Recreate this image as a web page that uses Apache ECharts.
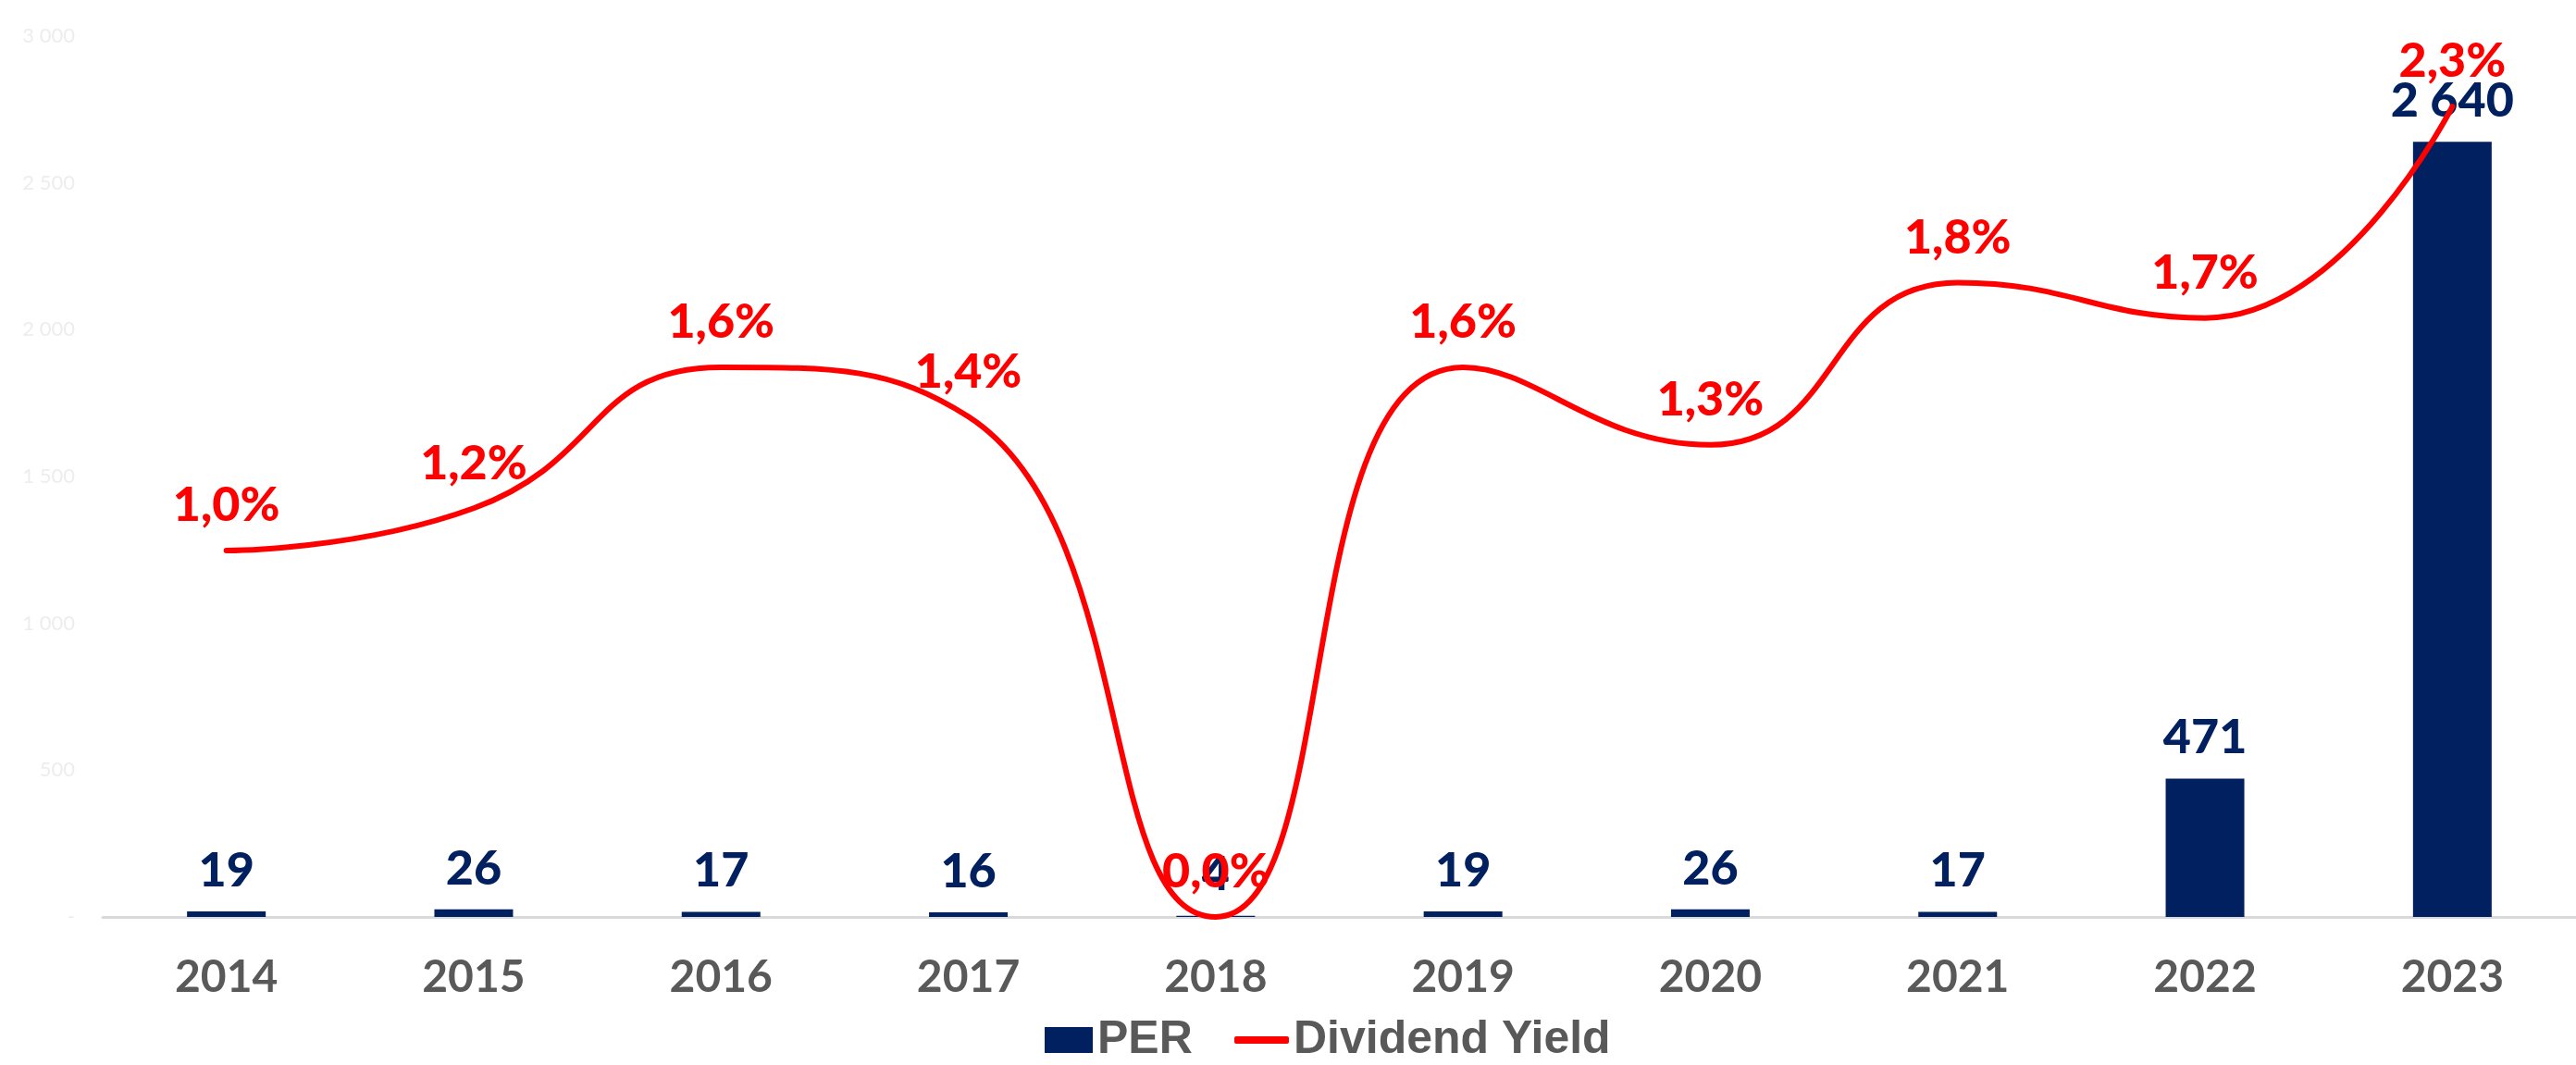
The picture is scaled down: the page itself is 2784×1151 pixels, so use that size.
<!DOCTYPE html>
<html>
<head>
<meta charset="utf-8">
<script src="https://cdn.jsdelivr.net/npm/echarts@6/dist/echarts.min.js"></script>
<style>
html,body{margin:0;padding:0;background:#fff;}
#chart{width:2784px;height:1151px;}
</style>
</head>
<body>
<div id="chart"></div>
<script>
const categories = ['2014','2015','2016','2017','2018','2019','2020','2021','2022','2023'];
const perValues = [19, 26, 17, 16, 4, 19, 26, 17, 471, 2640];
const dividendYield = [1.04, 1.16, 1.56, 1.42, 0.0, 1.56, 1.34, 1.80, 1.70, 2.30];
const perAxisTicks = [0, 500, 1000, 1500, 2000, 2500, 3000];

const chart = echarts.init(document.getElementById('chart'));
const labelFont = "Lato, 'Liberation Sans', sans-serif";
const legendFont = "'Liberation Sans', Arial, sans-serif";

chart.setOption({
  animation: false,
  backgroundColor: '#ffffff',
  grid: { left: 111, right: -33, top: 39, bottom: 160, containLabel: false },
  legend: [
    {
      data: [{ name: 'PER', icon: 'rect' }],
      left: 1124, top: 1094,
      itemWidth: 52, itemHeight: 28,
      textStyle: { color: '#595959', fontSize: 50, fontWeight: 'bold', fontFamily: legendFont }
    },
    {
      data: [{ name: 'Dividend Yield', icon: 'roundRect' }],
      left: 1329, top: 1094,
      itemWidth: 59, itemHeight: 8,
      textStyle: { color: '#595959', fontSize: 50, fontWeight: 'bold', fontFamily: legendFont }
    }
  ],
  xAxis: {
    type: 'category',
    data: categories,
    boundaryGap: true,
    axisLine: { show: true, lineStyle: { color: '#d9d9d9', width: 3 } },
    axisTick: { show: false },
    axisLabel: {
      margin: 42,
      color: '#595959', fontSize: 48, fontWeight: 'bold',
      fontFamily: "Lato, sans-serif"
    },
    splitLine: { show: false }
  },
  yAxis: [
    {
      type: 'value',
      min: perAxisTicks[0],
      max: perAxisTicks[perAxisTicks.length - 1],
      interval: perAxisTicks[1] - perAxisTicks[0],
      axisLine: { show: false },
      axisTick: { show: false },
      splitLine: { show: false },
      axisLabel: {
        margin: 30,
        color: '#ededed', fontSize: 22, fontFamily: "Lato, sans-serif",
        formatter: function (v) {
          if (v === 0) return '-';
          return String(v).replace(/\B(?=(\d{3})+(?!\d))/g, ' ');
        }
      }
    },
    {
      type: 'value', min: 0, max: 2.5, show: false,
      splitLine: { show: false }
    }
  ],
  series: [
    {
      name: 'PER',
      type: 'bar',
      data: perValues,
      barWidth: 85,
      itemStyle: { color: '#002060' },
      label: {
        show: true, position: 'top', distance: 18,
        color: '#002060', fontSize: 52, fontWeight: 900, fontFamily: labelFont,
        formatter: function (p) {
          return String(p.value).replace(/\B(?=(\d{3})+(?!\d))/g, ' ');
        }
      },
      z: 2
    },
    {
      name: 'Dividend Yield',
      type: 'line',
      yAxisIndex: 1,
      data: dividendYield,
      smooth: 0.5,
      symbol: 'circle',
      symbolSize: 1,
      showSymbol: true,
      lineStyle: { color: '#ff0000', width: 6, cap: 'round' },
      itemStyle: { color: '#ff0000' },
      label: {
        show: true, position: 'top', distance: 22,
        color: '#ff0000', fontSize: 52, fontWeight: 900, fontFamily: labelFont,
        formatter: function (p) {
          return p.value.toFixed(1).replace('.', ',') + '%';
        }
      },
      labelLayout: { hideOverlap: false },
      z: 3
    }
  ]
});
</script>
</body>
</html>
